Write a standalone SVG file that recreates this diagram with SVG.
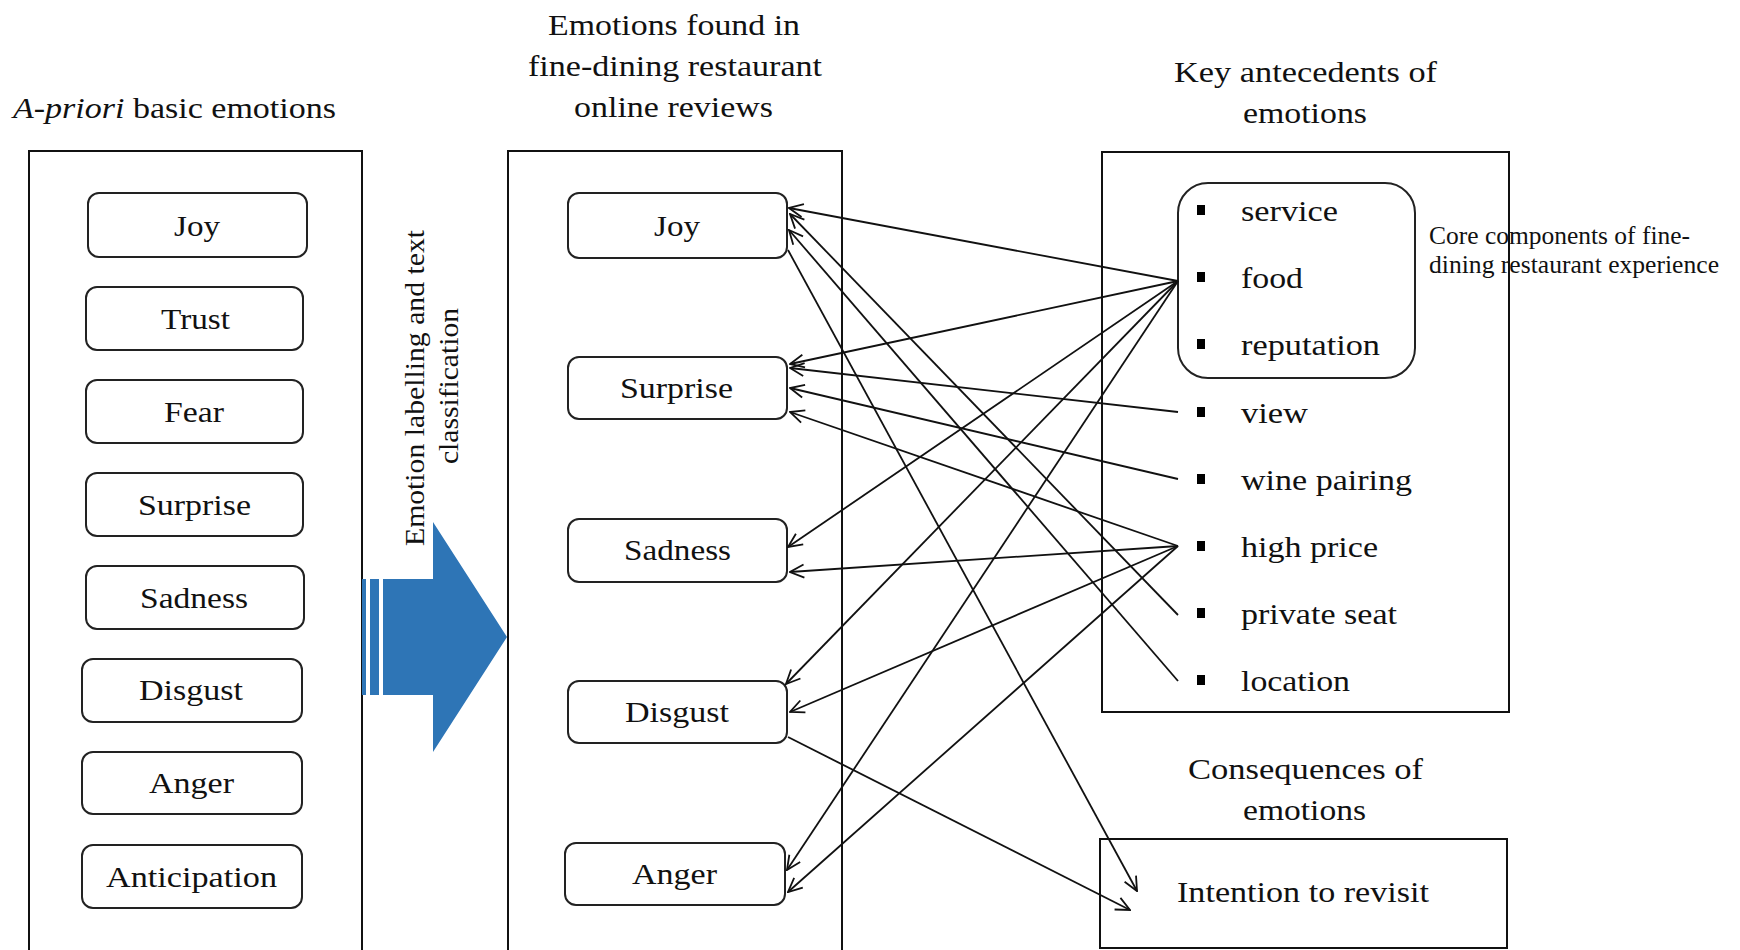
<svg xmlns="http://www.w3.org/2000/svg" width="1740" height="950" viewBox="0 0 1740 950">
<style>
text{font-family:"Liberation Serif","Times New Roman",serif;fill:#111;font-size:30px}
.frame{fill:none;stroke:#111;stroke-width:2}
.node{fill:#fff;stroke:#222;stroke-width:2}
.core{fill:none;stroke:#222;stroke-width:2}
.small{font-size:26px}
.rot{font-size:28px}
.bul{fill:#000}
#connectors line{stroke:#111;stroke-width:1.8;fill:none}
.arr{marker-end:url(#ah)}
</style>
<defs>
<marker id="ah" viewBox="0 0 16 16" refX="15" refY="8" markerWidth="16" markerHeight="16" orient="auto" markerUnits="userSpaceOnUse">
<path d="M1,1.5 L15,8 L1,14.5" fill="none" stroke="#111" stroke-width="1.8"/>
</marker>
</defs>
<rect width="1740" height="950" fill="#fff"/>

<g id="col-apriori">
<text x="13" y="118" textLength="323" lengthAdjust="spacingAndGlyphs"><tspan font-style="italic">A-priori</tspan> basic emotions</text>
<rect class="frame" x="29" y="151" width="333" height="820"/>
</g>
<g id="a-joy"><rect class="node" x="88" y="193" width="219" height="64" rx="11"/><text x="174" y="236" textLength="46" lengthAdjust="spacingAndGlyphs">Joy</text></g>
<g id="a-trust"><rect class="node" x="86" y="287" width="217" height="63" rx="11"/><text x="161" y="329" textLength="69" lengthAdjust="spacingAndGlyphs">Trust</text></g>
<g id="a-fear"><rect class="node" x="86" y="380" width="217" height="63" rx="11"/><text x="164" y="422" textLength="60" lengthAdjust="spacingAndGlyphs">Fear</text></g>
<g id="a-surprise"><rect class="node" x="86" y="473" width="217" height="63" rx="11"/><text x="138" y="515" textLength="113" lengthAdjust="spacingAndGlyphs">Surprise</text></g>
<g id="a-sadness"><rect class="node" x="86" y="566" width="218" height="63" rx="11"/><text x="140" y="608" textLength="108" lengthAdjust="spacingAndGlyphs">Sadness</text></g>
<g id="a-disgust"><rect class="node" x="82" y="659" width="220" height="63" rx="11"/><text x="139" y="700" textLength="104" lengthAdjust="spacingAndGlyphs">Disgust</text></g>
<g id="a-anger"><rect class="node" x="82" y="752" width="220" height="62" rx="11"/><text x="149" y="793" textLength="85" lengthAdjust="spacingAndGlyphs">Anger</text></g>
<g id="a-anticipation"><rect class="node" x="82" y="845" width="220" height="63" rx="11"/><text x="106" y="887" textLength="171" lengthAdjust="spacingAndGlyphs">Anticipation</text></g>

<g id="process-arrow">
<rect x="362" y="579" width="4" height="116" fill="#2E75B6"/>
<rect x="370" y="579" width="9" height="116" fill="#2E75B6"/>
<polygon points="383,579 433,579 433,522 507,637 433,752 433,695 383,695" fill="#2E75B6"/>
<text class="rot" transform="translate(424,388) rotate(-90)" text-anchor="middle" textLength="316" lengthAdjust="spacingAndGlyphs">Emotion labelling and text</text>
<text class="rot" transform="translate(458,386) rotate(-90)" text-anchor="middle" textLength="156" lengthAdjust="spacingAndGlyphs">classification</text>
</g>

<g id="col-found">
<text x="548" y="35" textLength="252" lengthAdjust="spacingAndGlyphs">Emotions found in</text>
<text x="528" y="76" textLength="294" lengthAdjust="spacingAndGlyphs">fine-dining restaurant</text>
<text x="574" y="117" textLength="199" lengthAdjust="spacingAndGlyphs">online reviews</text>
<rect class="frame" x="508" y="151" width="334" height="820"/>
</g>
<g id="m-joy"><rect class="node" x="568" y="193" width="219" height="65" rx="11"/><text x="654" y="236" textLength="46" lengthAdjust="spacingAndGlyphs">Joy</text></g>
<g id="m-surprise"><rect class="node" x="568" y="357" width="219" height="62" rx="11"/><text x="620" y="398" textLength="113" lengthAdjust="spacingAndGlyphs">Surprise</text></g>
<g id="m-sadness"><rect class="node" x="568" y="519" width="219" height="63" rx="11"/><text x="624" y="560" textLength="107" lengthAdjust="spacingAndGlyphs">Sadness</text></g>
<g id="m-disgust"><rect class="node" x="568" y="681" width="219" height="62" rx="11"/><text x="625" y="722" textLength="104" lengthAdjust="spacingAndGlyphs">Disgust</text></g>
<g id="m-anger"><rect class="node" x="565" y="843" width="220" height="62" rx="11"/><text x="632" y="884" textLength="85" lengthAdjust="spacingAndGlyphs">Anger</text></g>

<g id="col-antecedents">
<text x="1174" y="82" textLength="263" lengthAdjust="spacingAndGlyphs">Key antecedents of</text>
<text x="1243" y="123" textLength="124" lengthAdjust="spacingAndGlyphs">emotions</text>
<rect class="frame" x="1102" y="152" width="407" height="560"/>
</g>
<g id="core-components">
<rect class="core" x="1178" y="183" width="237" height="195" rx="30"/>
<text class="small" x="1429" y="244" textLength="261" lengthAdjust="spacingAndGlyphs">Core components of fine-</text>
<text class="small" x="1429" y="273" textLength="290" lengthAdjust="spacingAndGlyphs">dining restaurant experience</text>
</g>
<g id="i-service"><rect class="bul" x="1197" y="205" width="8" height="10"/><text x="1241" y="221" textLength="97" lengthAdjust="spacingAndGlyphs">service</text></g>
<g id="i-food"><rect class="bul" x="1197" y="272" width="8" height="10"/><text x="1241" y="288" textLength="62" lengthAdjust="spacingAndGlyphs">food</text></g>
<g id="i-reputation"><rect class="bul" x="1197" y="339" width="8" height="10"/><text x="1241" y="355" textLength="139" lengthAdjust="spacingAndGlyphs">reputation</text></g>
<g id="i-view"><rect class="bul" x="1197" y="407" width="8" height="10"/><text x="1241" y="423" textLength="67" lengthAdjust="spacingAndGlyphs">view</text></g>
<g id="i-wine"><rect class="bul" x="1197" y="474" width="8" height="10"/><text x="1241" y="490" textLength="171" lengthAdjust="spacingAndGlyphs">wine pairing</text></g>
<g id="i-price"><rect class="bul" x="1197" y="541" width="8" height="10"/><text x="1241" y="557" textLength="137" lengthAdjust="spacingAndGlyphs">high price</text></g>
<g id="i-seat"><rect class="bul" x="1197" y="608" width="8" height="10"/><text x="1241" y="624" textLength="156" lengthAdjust="spacingAndGlyphs">private seat</text></g>
<g id="i-location"><rect class="bul" x="1197" y="675" width="8" height="10"/><text x="1241" y="691" textLength="109" lengthAdjust="spacingAndGlyphs">location</text></g>

<g id="col-consequences">
<text x="1188" y="779" textLength="235" lengthAdjust="spacingAndGlyphs">Consequences of</text>
<text x="1243" y="820" textLength="123" lengthAdjust="spacingAndGlyphs">emotions</text>
</g>
<g id="c-intention">
<rect class="frame" x="1100" y="839" width="407" height="109"/>
<text x="1177" y="902" textLength="252" lengthAdjust="spacingAndGlyphs">Intention to revisit</text>
</g>

<g id="connectors">
<line class="arr" x1="1178" y1="281" x2="789" y2="208"/>
<line class="arr" x1="1178" y1="615" x2="790" y2="214"/>
<line class="arr" x1="1178" y1="681" x2="789" y2="230"/>
<line class="arr" x1="788" y1="250" x2="1137" y2="891"/>
<line class="arr" x1="1178" y1="281" x2="790" y2="364"/>
<line class="arr" x1="1178" y1="412" x2="790" y2="368"/>
<line class="arr" x1="1178" y1="479" x2="790" y2="388"/>
<line class="arr" x1="1178" y1="546" x2="790" y2="412"/>
<line class="arr" x1="1178" y1="281" x2="788" y2="547"/>
<line class="arr" x1="1178" y1="546" x2="790" y2="572"/>
<line class="arr" x1="1178" y1="281" x2="786" y2="684"/>
<line class="arr" x1="1178" y1="546" x2="790" y2="712"/>
<line class="arr" x1="788" y1="737" x2="1130" y2="910"/>
<line class="arr" x1="1178" y1="281" x2="787" y2="870"/>
<line class="arr" x1="1178" y1="546" x2="788" y2="892"/>
</g>
</svg>
